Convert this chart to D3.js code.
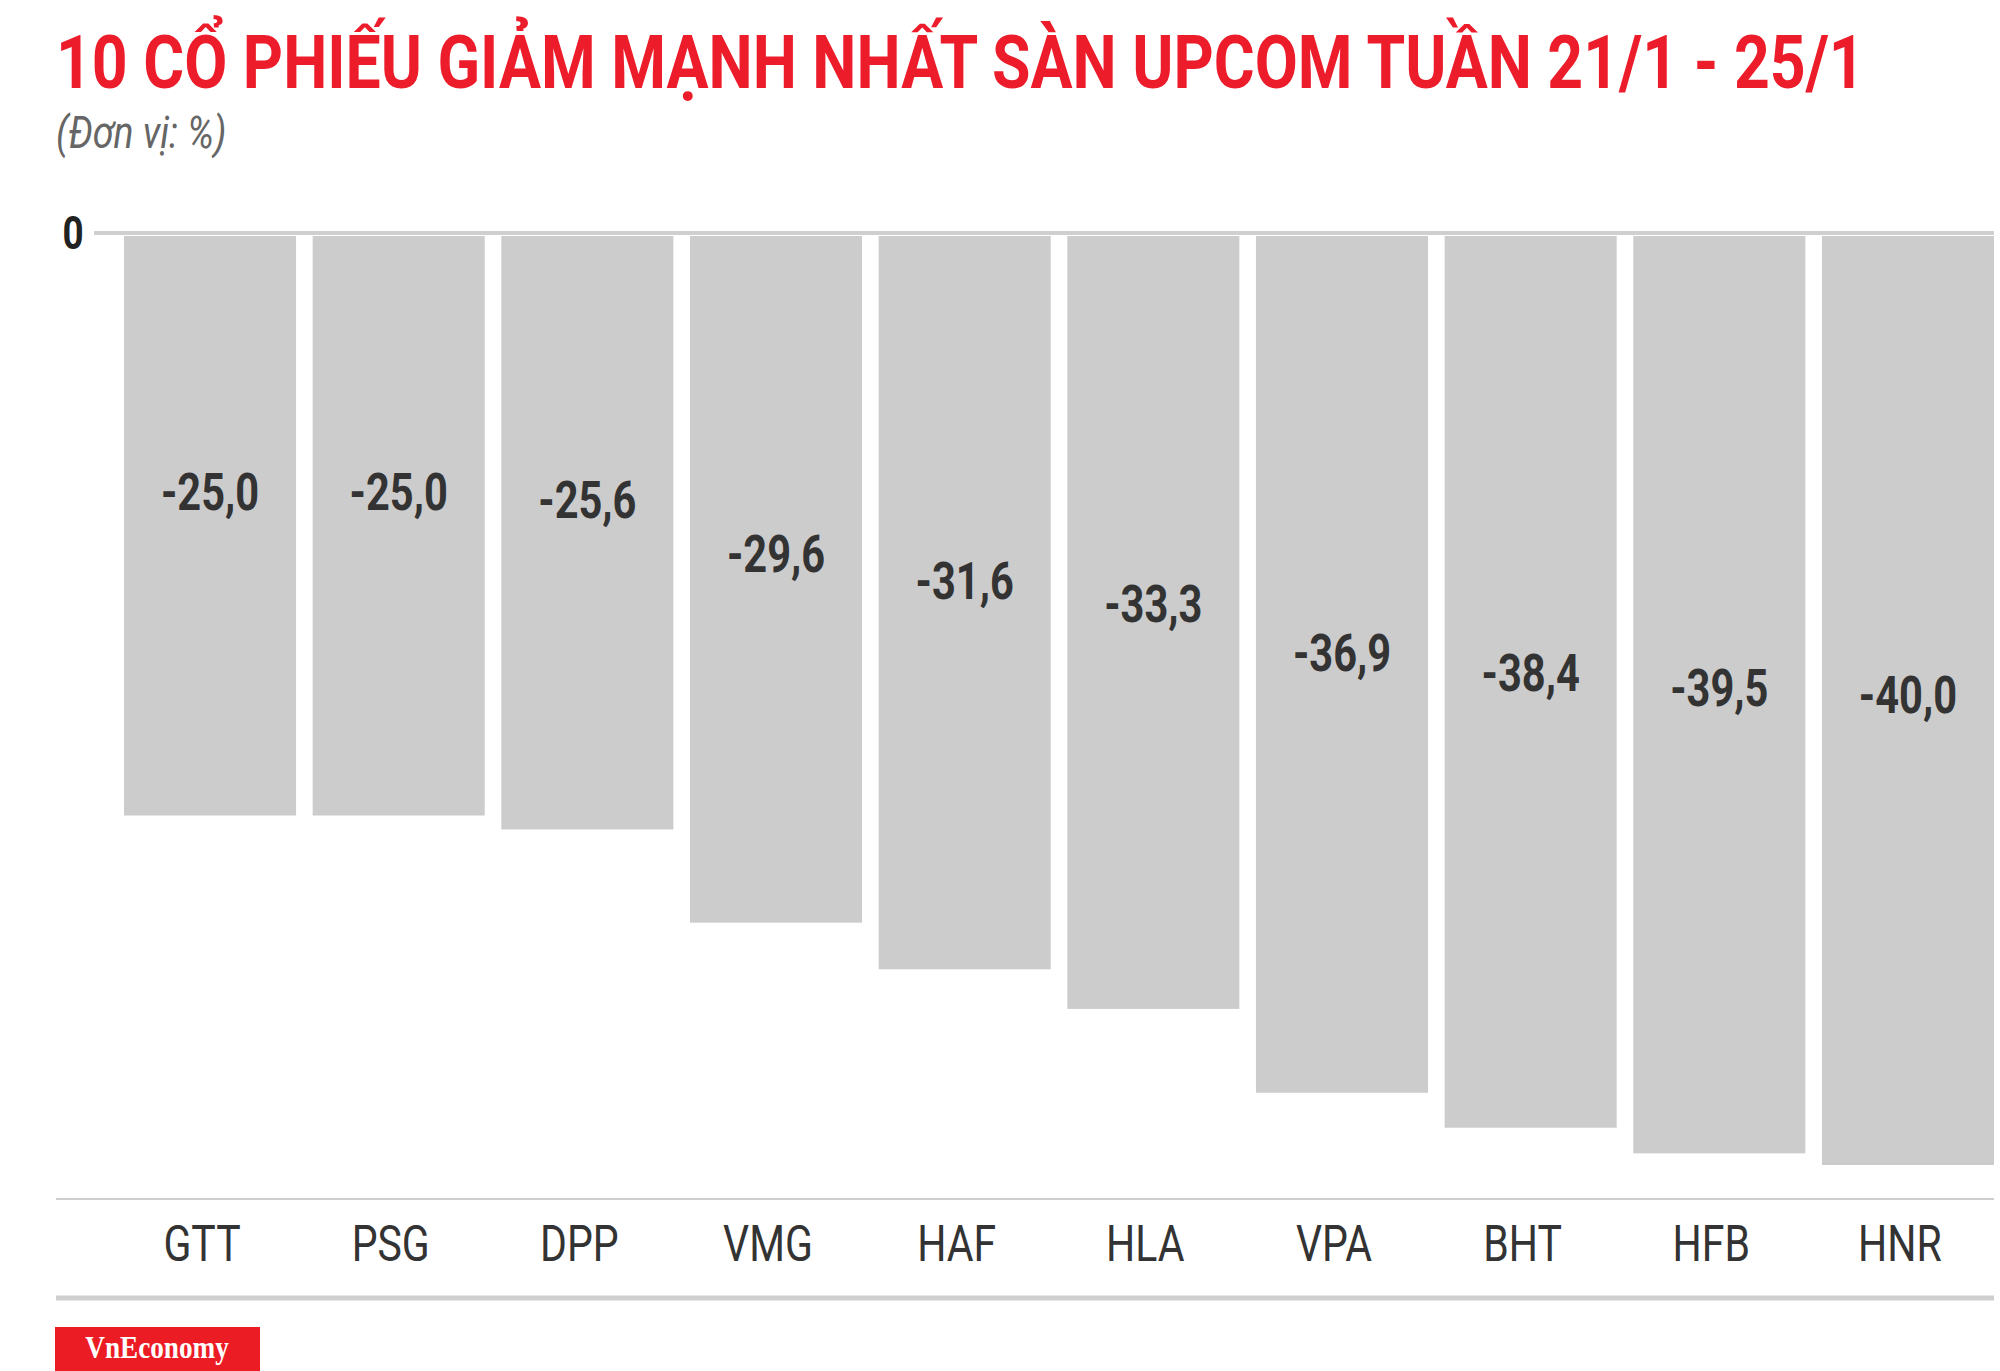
<!DOCTYPE html>
<html>
<head>
<meta charset="utf-8">
<script src="https://cdn.jsdelivr.net/npm/d3@7"></script>
<style>
  body { margin: 0; background: #fff; }
  svg { display: block; }
</style>
</head>
<body>
<script>
// du lieu
const categories = ['GTT', 'PSG', 'DPP', 'VMG', 'HAF', 'HLA', 'VPA', 'BHT', 'HFB', 'HNR'];
const values = [-25.0, -25.0, -25.6, -29.6, -31.6, -33.3, -36.9, -38.4, -39.5, -40.0];
const title = '10 CỔ PHIẾU GIẢM MẠNH NHẤT SÀN UPCOM TUẦN 21/1 - 25/1';
const unit = '(Đơn vị: %)';

const width = 2000, height = 1371;
const svg = d3.select('body').append('svg')
  .attr('width', width)
  .attr('height', height);

const fmt = v => v.toFixed(1).replace('.', ',');

// chu hep (condensed)
function condText(x, y, txt, opts) {
  const sx = opts.sx || 0.8;
  return svg.append('text')
    .attr('transform', `translate(${x},${y}) scale(${sx},1)`)
    .attr('text-anchor', opts.anchor || 'start')
    .attr('font-family', 'Roboto')
    .attr('font-size', opts.size)
    .attr('font-weight', opts.weight || 400)
    .attr('font-style', opts.style || 'normal')
    .attr('fill', opts.fill)
    .text(txt);
}

condText(56, 88, title, { size: 74, weight: 700, fill: '#ec1c2b', sx: 0.845 });
condText(56, 148, unit, { size: 44, style: 'italic', fill: '#666', sx: 0.85 });

// thang do
const x = d3.scaleBand().domain(categories).range([124, 1994]).paddingInner(0.088).paddingOuter(0);
const y = d3.scaleLinear().domain([0, -40]).range([233, 1165]);

// duong 0
svg.append('line')
  .attr('x1', 94).attr('x2', 1994)
  .attr('y1', y(0)).attr('y2', y(0))
  .attr('stroke', '#cfcfcf').attr('stroke-width', 4);
condText(73, y(0) + 16, '0', { size: 46, weight: 700, fill: '#222', anchor: 'middle', sx: 0.8 });

// cot
svg.selectAll('rect.bar')
  .data(values)
  .enter().append('rect')
  .attr('class', 'bar')
  .attr('x', (d, i) => x(categories[i]))
  .attr('y', y(0) + 3)
  .attr('width', x.bandwidth())
  .attr('height', d => y(d) - y(0) - 3)
  .attr('fill', '#cdcccd');

values.forEach((v, i) => {
  const cx = x(categories[i]) + x.bandwidth() / 2;
  const ly = (y(0) + y(v)) / 2 + 14 + (Math.abs(v) - 40) * 1.9;
  condText(cx, ly, fmt(v), { size: 52, weight: 700, fill: '#333', anchor: 'middle', sx: 0.8 });
  condText(cx - 8, 1261, categories[i], { size: 50, weight: 400, fill: '#333', anchor: 'middle', sx: 0.82 });
});

// truc duoi
svg.append('line')
  .attr('x1', 56).attr('x2', 1994)
  .attr('y1', 1199).attr('y2', 1199)
  .attr('stroke', '#cfcfcf').attr('stroke-width', 2);
svg.append('line')
  .attr('x1', 56).attr('x2', 1994)
  .attr('y1', 1298).attr('y2', 1298)
  .attr('stroke', '#cfcfcf').attr('stroke-width', 5);

// logo
svg.append('rect')
  .attr('x', 55).attr('y', 1327).attr('width', 205).attr('height', 44)
  .attr('fill', '#ec1c24');
svg.append('text')
  .attr('transform', 'translate(157,1358) scale(0.85,1)')
  .attr('text-anchor', 'middle')
  .attr('font-family', 'Liberation Serif')
  .attr('font-weight', 700)
  .attr('font-size', 32)
  .attr('fill', '#fff')
  .text('VnEconomy');
</script>
</body>
</html>
